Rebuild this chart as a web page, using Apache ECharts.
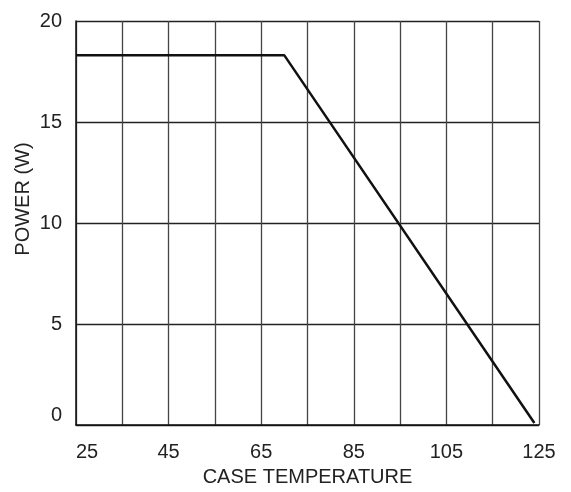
<!DOCTYPE html>
<html>
<head>
<meta charset="utf-8">
<script src="https://cdn.jsdelivr.net/npm/echarts@6/dist/echarts.min.js"></script>
<style>
html,body{margin:0;padding:0;background:#fff;}
#chart{width:571px;height:492px;}
</style>
</head>
<body>
<div id="chart"></div>
<script>
// Data
var xTicks = [25, 45, 65, 85, 105, 125];
var yTicks = [0, 5, 10, 15, 20];
var caseTemp = [25, 70, 124];
var powerW = [18.3, 18.3, 0.1];

var chart = echarts.init(document.getElementById('chart'));
var pts = caseTemp.map(function (t, i) { return [t, powerW[i]]; });
var font = '"Liberation Sans", Arial, Helvetica, sans-serif';

chart.setOption({
  animation: false,
  backgroundColor: '#fff',
  grid: { left: 76, right: 32, top: 21, bottom: 64 },
  xAxis: {
    type: 'value', min: 25, max: 125, interval: 10,
    name: 'CASE TEMPERATURE', nameLocation: 'middle', nameGap: 42,
    nameMoveOverlap: false,
    nameTextStyle: { fontFamily: font, fontSize: 20, color: '#222' },
    axisLine: { show: true, lineStyle: { color: '#111', width: 1.5 } },
    axisTick: { show: false },
    splitLine: { show: true, lineStyle: { color: '#444', width: 1.3 } },
    axisLabel: {
      margin: 17, fontFamily: font, fontSize: 20, color: '#222',
      alignMinLabel: 'left',
      formatter: function (v) { return xTicks.indexOf(v) >= 0 ? String(v) : ''; }
    }
  },
  yAxis: {
    type: 'value', min: 0, max: 20, interval: 5,
    name: 'POWER (W)', nameLocation: 'middle', nameGap: 43, nameRotate: 90,
    nameMoveOverlap: false,
    nameTextStyle: { fontFamily: font, fontSize: 20, color: '#222', padding: [0, 0, 0, 48] },
    axisLine: { show: true, lineStyle: { color: '#111', width: 1.5 } },
    axisTick: { show: false },
    splitLine: { show: true, lineStyle: { color: '#222', width: 1.3 } },
    axisLabel: {
      margin: 14, fontFamily: font, fontSize: 20, color: '#222',
      verticalAlignMinLabel: 'bottom',
      formatter: function (v) { return yTicks.indexOf(v) >= 0 ? String(v) : ''; }
    }
  },
  series: [{
    type: 'line',
    data: pts,
    showSymbol: false,
    lineStyle: { color: '#111', width: 2.5 }
  }]
});
</script>
</body>
</html>
